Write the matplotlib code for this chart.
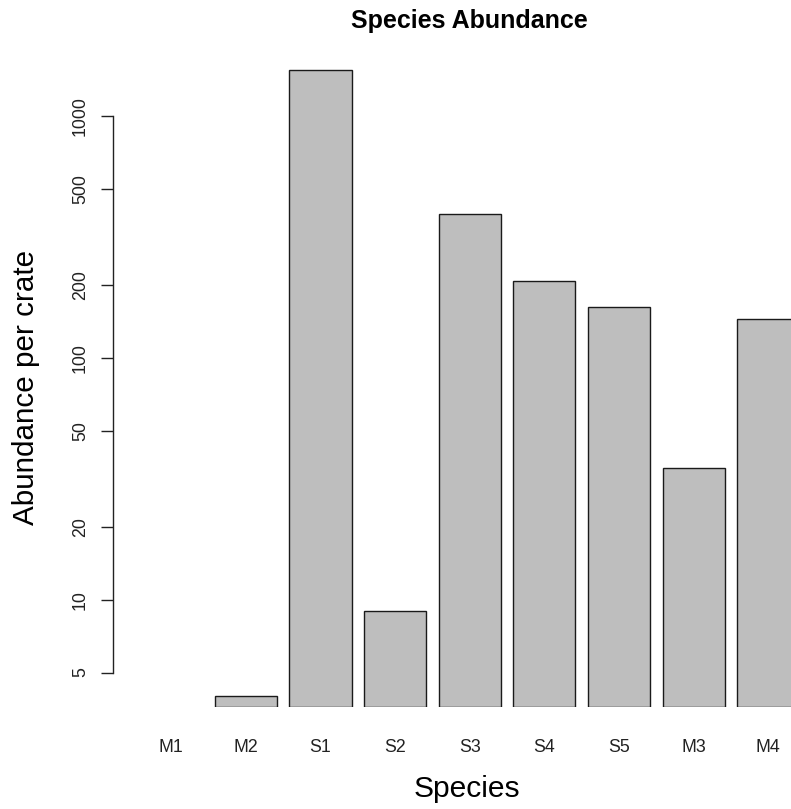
import numpy as np
import matplotlib
matplotlib.use("Agg")
import matplotlib.pyplot as plt

plt.rcParams['font.family'] = ['Liberation Sans', 'DejaVu Sans']

# abundance per crate, one bar per species (M1 has none)
species = ['M1', 'M2', 'S1', 'S2', 'S3', 'S4', 'S5', 'M3', 'M4']
abundance = np.array([0, 4, 1560, 9, 395, 208, 163, 35, 145], dtype=float)
y_ticks = [5, 10, 20, 50, 100, 200, 500, 1000]

W, H = 791, 809
fig = plt.figure(figsize=(W / 100, H / 100), dpi=100)

# axes box in pixel terms (from top-left)
left_px, right_px, top_px, bottom_px = 113, 791, 40, 707
ax = fig.add_axes([left_px / W, (H - bottom_px) / H,
                   (right_px - left_px) / W, (bottom_px - top_px) / H])

# barplot-style layout: width 1, gap 0.2, bars grow from 0.9 * smallest value
width, space = 1.0, 0.2
lefts = space + np.arange(len(species)) * (width + space)
centers = lefts + width / 2
base = 0.9 * abundance[abundance > 0].min()

has = abundance > 0
ax.bar(lefts[has], abundance[has] - base, width=width, bottom=base, align='edge',
       color='#bebebe', edgecolor='#1a1a1a', linewidth=1.0)

ax.set_yscale('log')
px_per_decade = 241.65
ytop = base * 10 ** ((bottom_px - top_px) / px_per_decade)
ax.set_ylim(base, ytop)
ax.set_xlim((left_px - 127.6) / 62.2, (right_px - 127.6) / 62.2)

for s in ['top', 'right', 'bottom']:
    ax.spines[s].set_visible(False)
ax.spines['left'].set_bounds(5, 1000)
ax.spines['left'].set_linewidth(1.0)
ax.spines['left'].set_color('#222222')

ax.yaxis.set_minor_locator(matplotlib.ticker.NullLocator())
ax.set_yticks(y_ticks)
ax.set_yticklabels([str(t) for t in y_ticks], rotation=90, va='center', fontsize=12.8, color='#222222')
ax.tick_params(axis='y', length=8.6, width=1.0, color='#222222', pad=8.8, direction='out')

ax.set_xticks(centers)
ax.set_xticklabels(species, fontsize=12.8, color='#222222')
ax.tick_params(axis='x', length=0, pad=22.7)

fig.text(469 / W, 1 - 28 / H, 'Species Abundance', ha='center', va='baseline',
         fontsize=18, fontweight='bold')
fig.text(467 / W, 1 - 797 / H, 'Species', ha='center', va='baseline', fontsize=21.6)
fig.text(34 / W, 1 - 387.5 / H, 'Abundance per crate', ha='center', va='baseline',
         rotation=90, fontsize=21.3, rotation_mode='anchor')

fig.savefig('out.png', dpi=100)
